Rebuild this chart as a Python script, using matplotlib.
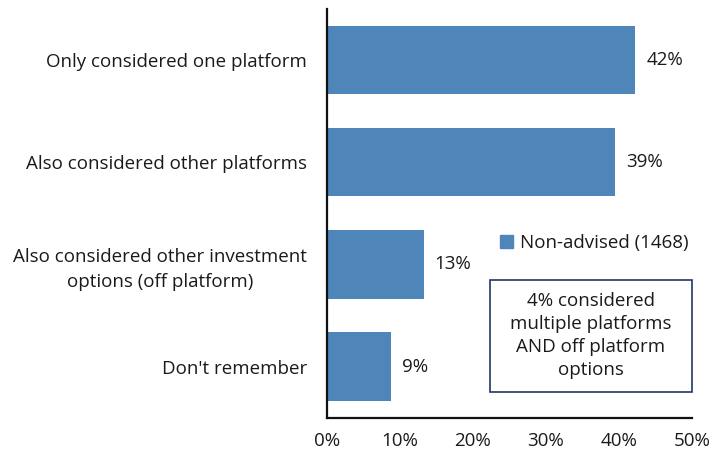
import matplotlib
matplotlib.use("Agg")
import matplotlib.pyplot as plt
from matplotlib.patches import Patch

plt.rcParams['font.family'] = ['Open Sans', 'DejaVu Sans']

# data
categories = ["Only considered one platform",
              "Also considered other platforms",
              "Also considered other investment\noptions (off platform)",
              "Don't remember"]
values = [42.3, 39.5, 13.3, 8.8]
value_labels = ["42%", "39%", "13%", "9%"]
ticks = [0, 10, 20, 30, 40, 50]
series_name = "Non-advised (1468)"
note = "4% considered\nmultiple platforms\nAND off platform\noptions"

bar_col = "#4F86B9"
txt_col = "#1a1a1a"
fs = 13.5

fig = plt.figure(figsize=(7.11, 4.54), dpi=100)
ax = fig.add_axes([326.7/711, 1-417.7/454, (691.7-326.7)/711, (417.7-9)/454])

ypos = list(range(len(categories)))
ax.barh(ypos, values, height=0.67, color=bar_col)
for y, v, lab in zip(ypos, values, value_labels):
    ax.text(v + 1.5, y, lab, va="center", ha="left", fontsize=fs, color=txt_col)

ax.set_ylim(len(categories) - 0.5, -0.5)
ax.set_xlim(0, 50)
ax.set_yticks(ypos)
ax.set_yticklabels(categories, fontsize=fs, color=txt_col, multialignment="center",
                   linespacing=1.5)
ax.set_xticks(ticks)
ax.set_xticklabels([f"{t}%" for t in ticks], fontsize=fs, color=txt_col)
ax.tick_params(axis="y", length=0, pad=14)
ax.tick_params(axis="x", length=0, pad=10)
for s in ["top", "right"]:
    ax.spines[s].set_visible(False)
ax.spines["left"].set_linewidth(1.6)
ax.spines["bottom"].set_linewidth(1.6)
ax.spines["left"].set_color("#111111")
ax.spines["bottom"].set_color("#111111")

leg = ax.legend([Patch(color=bar_col)], [series_name], loc="center left",
                bbox_to_anchor=(500/711, 1-243/454), bbox_transform=fig.transFigure,
                frameon=False, fontsize=fs, handlelength=0.7, handleheight=0.7,
                handletextpad=0.35, borderpad=0, borderaxespad=0)
for t in leg.get_texts():
    t.set_color(txt_col)

fig.text((490+691.7)/2/711, 1-(280+391.7)/2/454, note, ha="center", va="center",
         fontsize=fs, color=txt_col, linespacing=1.35)
fig.patches.append(plt.Rectangle((490/711, 1-391.7/454), (691.7-490)/711, (391.7-280)/454,
                                 transform=fig.transFigure, fill=False,
                                 edgecolor="#1F3864", linewidth=1.2))

fig.savefig("out.png", dpi=100)
